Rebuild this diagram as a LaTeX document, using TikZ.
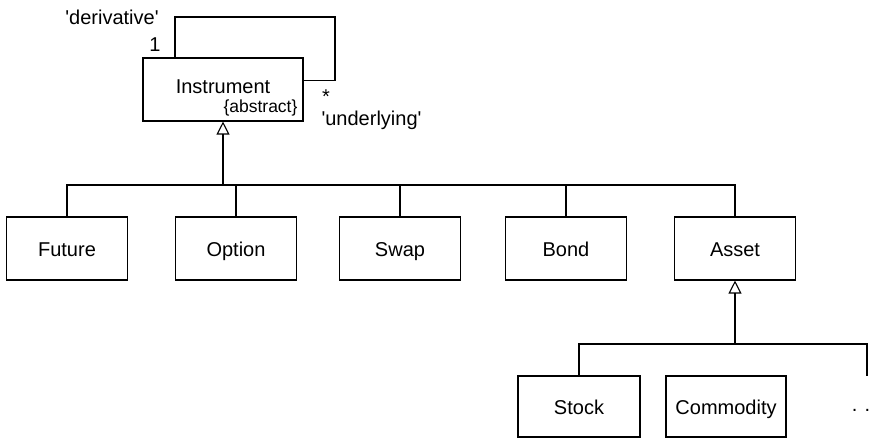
\documentclass[tikz,border=0pt]{standalone}
\usepackage{fontspec}
\setmainfont{Liberation Sans}
\usetikzlibrary{arrows.meta,calc}
\begin{document}
\begin{tikzpicture}[x=1pt,y=-1pt,
  line width=1.1pt,
  every node/.style={font=\fontsize{20}{24}\selectfont, inner sep=0pt},
  umlbox/.style={draw, minimum width=121pt, minimum height=63pt, text height=19pt, text depth=4pt},
  gen/.style={-{Triangle[open,length=13pt,width=13pt,line width=1.1pt]}},
  small/.style={font=\fontsize{17.5}{21}\selectfont}]
\useasboundingbox (0,0) rectangle (872,440);
% top class
\node[draw, minimum width=160pt, minimum height=63pt] (inst) at (223,89.5) {};
\node (instname) at (223,87) {Instrument};
\node[small, anchor=east] (abs) at (298,108) {\{abstract\}};
% self association
\coordinate (lt) at (175,17);
\coordinate (rt) at (335,17);
\draw (inst.north -| lt) -- (lt) -- (rt) |- ($(inst.east)+(0,-9)$);
\node (deriv) at (112,17) {\textquotesingle derivative\textquotesingle};
\node (one) at (155,45) {1};
\node (star) at (326,97) {*};
\node[anchor=west] (under) at (321,120) {\textquotesingle underlying\textquotesingle};
% subclasses
\node[umlbox] (future) at (67,248.5) {Future};
\node[umlbox] (option) at (236,248.5) {Option};
\node[umlbox] (swap) at (400,248.5) {Swap};
\node[umlbox] (bond) at (566,248.5) {Bond};
\node[umlbox] (asset) at (735,248.5) {Asset};
\coordinate (j1) at (223,185);
\draw[gen] (j1) -- (inst.south);
\draw (future.north) |- (asset.north |- j1) -- (asset.north);
\draw (option.north) -- (option.north |- j1);
\draw (swap.north) -- (swap.north |- j1);
\draw (bond.north) -- (bond.north |- j1);
% asset subclasses
\node[umlbox, minimum width=122pt, minimum height=61pt] (stock) at (579,406.5) {Stock};
\node[umlbox, minimum width=120pt, minimum height=61pt] (commodity) at (726,406.5) {Commodity};
\coordinate (j2) at (735,344);
\coordinate (more) at (867,376);
\draw[gen] (j2) -- (asset.south);
\draw (stock.north) |- (more |- j2) -- (more);
\node (dots) at (861,410) {. .};
\end{tikzpicture}
\end{document}
